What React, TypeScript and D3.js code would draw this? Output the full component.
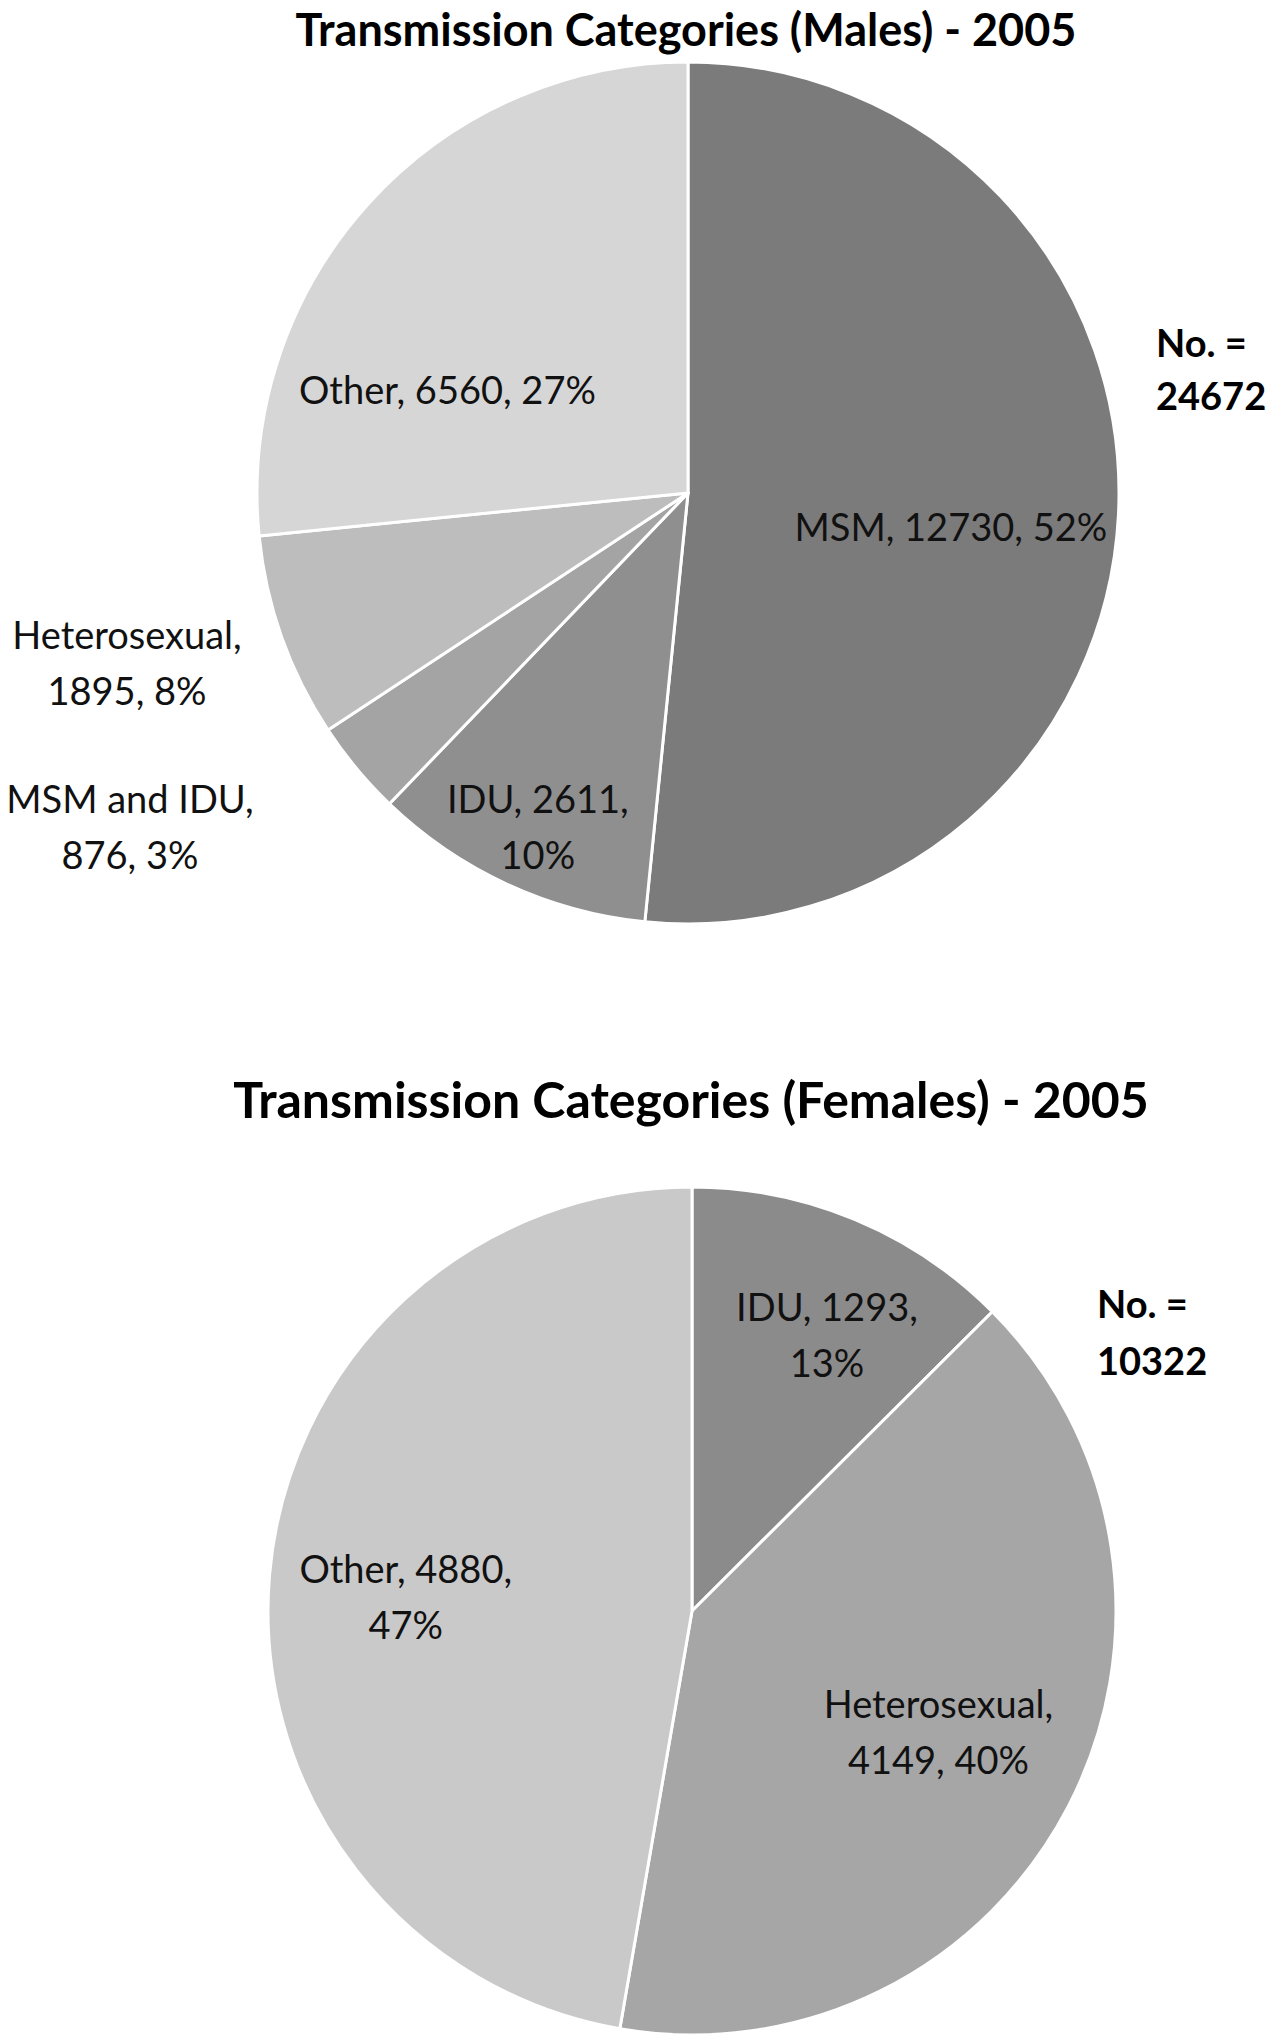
import React, { useEffect } from "react";
import * as d3 from "d3";

// ---- Data ----
const maleCategories = ["MSM", "IDU", "MSM and IDU", "Heterosexual", "Other"];
const maleValues = [12730, 2611, 876, 1895, 6560];
const malePercents = ["52%", "10%", "3%", "8%", "27%"];
const maleTotalLabel = "24672";

const femaleCategories = ["IDU", "Heterosexual", "Other"];
const femaleValues = [1293, 4149, 4880];
const femalePercents = ["13%", "40%", "47%"];
const femaleTotalLabel = "10322";

const maleTitle = "Transmission Categories (Males) - 2005";
const femaleTitle = "Transmission Categories (Females) - 2005";

// ---- Styles / layout ----
const maleColors = ["#7b7b7b", "#8f8f8f", "#a4a4a4", "#bdbdbd", "#d6d6d6"];
const femaleColors = ["#8b8b8b", "#a6a6a6", "#c9c9c9"];
// line break mode: 0 = single line, 1 = break after name, 2 = break after value
const maleWrap = [0, 2, 1, 1, 0];
const femaleWrap = [2, 1, 2];
// label placement: radius factor and angle shift (deg) from slice mid-angle
const maleLabelR = [0.615, 0.85, 1.51, 1.36, 0.607];
const maleLabelShift = [4.5, -0.6, 8.8, 2.7, -19.0];
const femaleLabelR = [0.725, 0.648, 0.676];
const femaleLabelShift = [3.5, -1.2, -2.1];

const FONT = "Lato, 'Open Sans', sans-serif";

function labelLines(name: string, value: number, pct: string, wrap: number): string[] {
  if (wrap === 0) return [`${name}, ${value}, ${pct}`];
  if (wrap === 1) return [`${name},`, `${value}, ${pct}`];
  return [`${name}, ${value},`, pct];
}

type PieProps = {
  cx: number;
  cy: number;
  r: number;
  cats: string[];
  vals: number[];
  pcts: string[];
  colors: string[];
  wrap: number[];
  lr: number[];
  ls: number[];
};

function Pie({ cx, cy, r, cats, vals, pcts, colors, wrap, lr, ls }: PieProps) {
  const pie = d3.pie<number>().sort(null).value((d) => d)(vals);
  const arc = d3.arc<d3.PieArcDatum<number>>().innerRadius(0).outerRadius(r);
  const fs = 38;
  const lh = 56;
  return (
    <g transform={`translate(${cx},${cy})`}>
      {pie.map((p, i) => (
        <path key={"s" + i} d={arc(p) || ""} fill={colors[i]} stroke="#ffffff" strokeWidth={3} strokeLinejoin="round" />
      ))}
      {pie.map((p, i) => {
        const mid = (p.startAngle + p.endAngle) / 2 + (ls[i] * Math.PI) / 180;
        const rr = r * lr[i];
        const x = Math.sin(mid) * rr;
        const y = -Math.cos(mid) * rr;
        const lines = labelLines(cats[i], vals[i], pcts[i], wrap[i]);
        const y0 = y - ((lines.length - 1) * lh) / 2 + fs * 0.36;
        return (
          <text key={"l" + i} textAnchor="middle" fontFamily={FONT} fontSize={fs} fill="#111">
            {lines.map((t, j) => (
              <tspan key={j} x={x} y={y0 + j * lh}>
                {t}
              </tspan>
            ))}
          </text>
        );
      })}
    </g>
  );
}

export default function App() {
  useEffect(() => {
    document.body.style.margin = "0";
  }, []);
  return (
    <svg width={1274} height={2040} style={{ display: "block", background: "#fff" }}>
      <rect x={0} y={0} width={1274} height={2040} fill="#ffffff" />
      <text x={686} y={46} textAnchor="middle" fontFamily={FONT} fontWeight="bold" fontSize={45} fill="#000">
        {maleTitle}
      </text>
      <Pie cx={688} cy={493} r={431} cats={maleCategories} vals={maleValues} pcts={malePercents} colors={maleColors} wrap={maleWrap} lr={maleLabelR} ls={maleLabelShift} />
      <text fontFamily={FONT} fontWeight="bold" fontSize={38} fill="#000">
        <tspan x={1156} y={357}>No. =</tspan>
        <tspan x={1156} y={410}>{maleTotalLabel}</tspan>
      </text>

      <text x={691} y={1118} textAnchor="middle" fontFamily={FONT} fontWeight="bold" fontSize={50} fill="#000">
        {femaleTitle}
      </text>
      <Pie cx={692} cy={1611} r={424} cats={femaleCategories} vals={femaleValues} pcts={femalePercents} colors={femaleColors} wrap={femaleWrap} lr={femaleLabelR} ls={femaleLabelShift} />
      <text fontFamily={FONT} fontWeight="bold" fontSize={38} fill="#000">
        <tspan x={1097} y={1318}>No. =</tspan>
        <tspan x={1097} y={1375}>{femaleTotalLabel}</tspan>
      </text>
    </svg>
  );
}
